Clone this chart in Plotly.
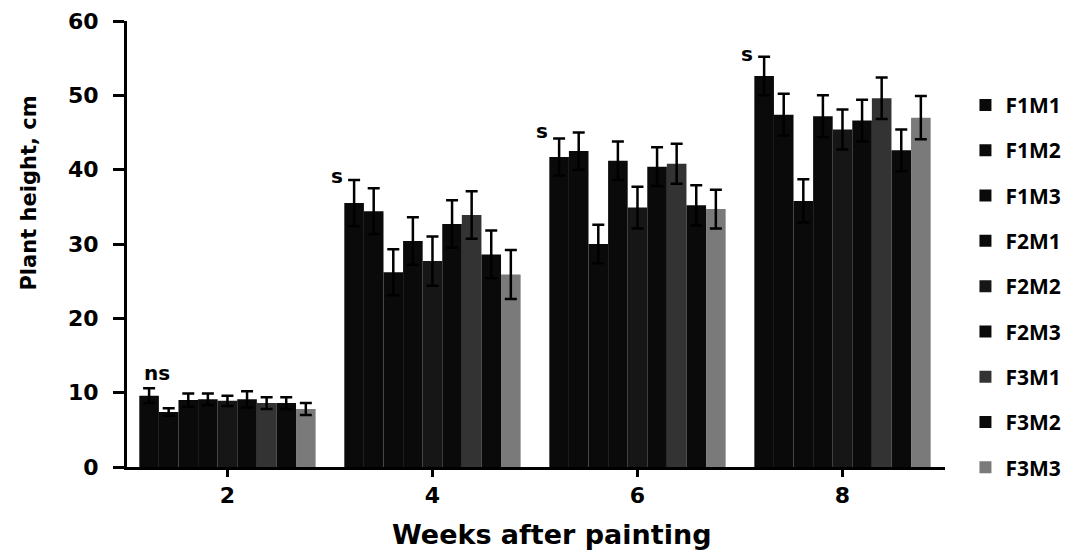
import plotly.graph_objects as go

weeks = ["2", "4", "6", "8"]
treatments = ["F1M1", "F1M2", "F1M3", "F2M1", "F2M2", "F2M3", "F3M1", "F3M2", "F3M3"]

# mean plant height (cm) per treatment, for weeks 2,4,6,8
F1M1 = [9.6, 35.5, 41.7, 52.6]
F1M2 = [7.4, 34.4, 42.5, 47.4]
F1M3 = [9.0, 26.2, 30.0, 35.8]
F2M1 = [9.1, 30.4, 41.2, 47.2]
F2M2 = [8.9, 27.7, 34.9, 45.4]
F2M3 = [9.1, 32.7, 40.4, 46.6]
F3M1 = [8.6, 33.9, 40.8, 49.6]
F3M2 = [8.6, 28.6, 35.2, 42.6]
F3M3 = [7.8, 25.9, 34.7, 47.0]

# standard error (cm)
F1M1_err = [1.0, 3.1, 2.5, 2.6]
F1M2_err = [0.5, 3.1, 2.5, 2.8]
F1M3_err = [0.9, 3.1, 2.6, 2.9]
F2M1_err = [0.8, 3.2, 2.6, 2.8]
F2M2_err = [0.7, 3.3, 2.8, 2.7]
F2M3_err = [1.1, 3.2, 2.6, 2.8]
F3M1_err = [0.8, 3.2, 2.7, 2.8]
F3M2_err = [0.8, 3.2, 2.7, 2.8]
F3M3_err = [0.8, 3.3, 2.6, 2.9]

signif = ["ns", "s", "s", "s"]
signif_y = [12.6, 39.1, 45.2, 55.5]

values = [F1M1, F1M2, F1M3, F2M1, F2M2, F2M3, F3M1, F3M2, F3M3]
errors = [F1M1_err, F1M2_err, F1M3_err, F2M1_err, F2M2_err, F2M3_err, F3M1_err, F3M2_err, F3M3_err]
colors = ["#0a0a0a", "#0a0a0a", "#0a0a0a", "#0a0a0a", "#161616", "#0a0a0a", "#333333", "#0a0a0a", "#7a7a7a"]

FONT = "DejaVu Sans, Liberation Sans, Arial, sans-serif"

fig = go.Figure()
for i, (name, v, e) in enumerate(zip(treatments, values, errors)):
    fig.add_trace(go.Bar(
        name=name, x=weeks, y=v,
        marker=dict(color=colors[i], line=dict(width=0)),
        error_y=dict(type="data", array=e, visible=True, color="black", thickness=2.5, width=6),
        legendgroup=name,
    ))

axis_font = dict(family=FONT, size=22, color="black", weight="bold")

for i, (s, sy) in enumerate(zip(signif, signif_y)):
    fig.add_annotation(x=i, y=sy, xref="x", yref="y", text=s, showarrow=False,
                       xshift=-95 if s == "s" else -70,
                       font=dict(family=FONT, size=20, color="black", weight="bold"))

# axis titles
fig.add_annotation(text="Weeks after painting", xref="paper", yref="paper", x=0.52, y=-0.152,
                   xanchor="center", yanchor="middle", showarrow=False,
                   font=dict(family=FONT, size=27, color="black", weight="bold"))
fig.add_annotation(text="Plant height, cm", xref="paper", yref="paper", x=-0.12, y=0.615,
                   xanchor="center", yanchor="middle", showarrow=False, textangle=-90,
                   font=dict(family=FONT, size=21, color="black", weight="bold"))

# page body has an 8px margin: size the figure so the plot area lands where the reference has it
fig.update_layout(
    width=1081, height=544,
    margin=dict(l=119, r=144, t=13, b=85),
    paper_bgcolor="white", plot_bgcolor="white",
    barmode="group", bargap=0.14, bargroupgap=0,
    showlegend=True,
    legend=dict(x=1.025, y=0.857, xanchor="left", yanchor="top",
                font=dict(family="Open Sans, sans-serif", size=21, color="black", weight="bold"),
                tracegroupgap=15, itemwidth=30),
    xaxis=dict(type="category", range=[-0.49, 3.5], showline=True, linecolor="black", linewidth=2.5,
               ticks="outside", ticklen=7, tickwidth=2.5, tickcolor="black",
               tickfont=axis_font, showgrid=False, automargin=False),
    yaxis=dict(range=[0, 60], tickmode="array", tickvals=[0, 10, 20, 30, 40, 50, 60],
               showline=True, linecolor="black", linewidth=3,
               ticks="outside", ticklen=11, tickwidth=2.5, tickcolor="black", ticklabelstandoff=10,
               ticklabeloverflow="allow",
               tickfont=axis_font, showgrid=False, zeroline=False, automargin=False),
)

fig.write_html("out.html")
